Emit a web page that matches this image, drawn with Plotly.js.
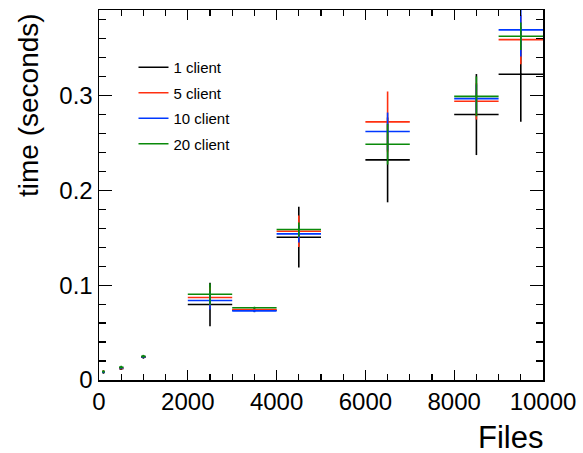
<!DOCTYPE html>
<html>
<head>
<meta charset="utf-8">
<script src="https://cdn.plot.ly/plotly-3.0.1.min.js"></script>
<style>html,body{margin:0;padding:0;background:#fff;}#chart{width:583px;height:453px;}</style>
</head>
<body>
<div id="chart"></div>
<script>
// Bin centres (Files) and half bin widths
var files = [100, 500, 1000, 2500, 3500, 4500, 6500, 8500, 9500];
var filesHalfWidth = [25, 50, 50, 500, 500, 500, 500, 500, 500];

// Series: time (seconds) and its uncertainty
var seriesNames = ["1 client", "5 client", "10 client", "20 client"];
var time1 = [0.0080, 0.0120, 0.0240, 0.0796, 0.0735, 0.1505, 0.2320, 0.2798, 0.3222];
var err1  = [0.0010, 0.0015, 0.0015, 0.0229, 0.0020, 0.0320, 0.0447, 0.0427, 0.0500];
var time5 = [0.0090, 0.0125, 0.0245, 0.0869, 0.0743, 0.1568, 0.2721, 0.2938, 0.3588];
var err5  = [0.0010, 0.0015, 0.0015, 0.0105, 0.0010, 0.0167, 0.0320, 0.0193, 0.0260];
var time10 = [0.0085, 0.0130, 0.0245, 0.0838, 0.0729, 0.1540, 0.2619, 0.2966, 0.3690];
var err10  = [0.0010, 0.0015, 0.0015, 0.0095, 0.0010, 0.0091, 0.0200, 0.0150, 0.0280];
var time20 = [0.0090, 0.0135, 0.0250, 0.0904, 0.0761, 0.1586, 0.2485, 0.2990, 0.3623];
var err20  = [0.0010, 0.0015, 0.0015, 0.0113, 0.0010, 0.0075, 0.0214, 0.0210, 0.0145];

var colors = ["#000000", "#ff3010", "#0038ff", "#0a8a0a"];
var ys = [time1, time5, time10, time20];
var es = [err1, err5, err10, err20];

var FONT = "Liberation Sans, Arial, sans-serif";
var traces = [];
for (var i = 0; i < 4; i++) {
  traces.push({
    type: "scatter", mode: "markers",
    x: files, y: ys[i],
    marker: {size: 2, color: colors[i]},
    error_x: {type: "data", array: filesHalfWidth, visible: true, color: colors[i], thickness: 1.6, width: 0},
    error_y: {type: "data", array: es[i], visible: true, color: colors[i], thickness: 1.6, width: 0},
    showlegend: false, hoverinfo: "skip"
  });
}
for (var j = 0; j < 4; j++) {
  traces.push({
    type: "scatter", mode: "lines", x: [null], y: [null],
    name: seriesNames[j], legendgroup: "g" + j,
    line: {color: colors[j], width: 1.6}, showlegend: true
  });
}

var layout = {
  width: 583, height: 453,
  margin: {l: 98.5, r: 40.3, t: 10, b: 72.5},
  paper_bgcolor: "#fff", plot_bgcolor: "#fff",
  font: {family: FONT, color: "#000"},
  showlegend: true,
  legend: {x: 0.0777, xanchor: "left", y: 0.889, yanchor: "top",
           bgcolor: "rgba(0,0,0,0)", font: {size: 15, family: FONT},
           tracegroupgap: 3, traceorder: "grouped"},
  xaxis: {
    range: [0, 10000], dtick: 2000, tick0: 0, tickformat: "d",
    showgrid: false, zeroline: false,
    showline: true, linecolor: "#000", linewidth: 1.5, mirror: "allticks",
    ticks: "inside", ticklen: 10, tickwidth: 1.2, tickcolor: "#000",
    tickfont: {size: 24, family: FONT},
    minor: {dtick: 500, ticks: "inside", ticklen: 6, tickwidth: 1.2, tickcolor: "#000", showgrid: false}
  },
  yaxis: {
    range: [0, 0.39], dtick: 0.1, tick0: 0,
    showgrid: false, zeroline: false,
    showline: true, linecolor: "#000", linewidth: 1.5, mirror: "allticks",
    ticks: "inside", ticklen: 13, tickwidth: 1.2, tickcolor: "#000",
    tickfont: {size: 24, family: FONT},
    minor: {dtick: 0.02, ticks: "inside", ticklen: 7, tickwidth: 1.2, tickcolor: "#000", showgrid: false}
  },
  annotations: [
    {text: "Files", xref: "paper", yref: "paper", x: 1, y: 0, xanchor: "right", yanchor: "middle",
     xshift: 2, yshift: -57, showarrow: false, font: {size: 31, family: FONT}},
    {text: "time (seconds)", xref: "paper", yref: "paper", x: 0, y: 1, xanchor: "center", yanchor: "top",
     xshift: -71, yshift: -1, textangle: -90, showarrow: false, font: {size: 28, family: FONT}}
  ]
};

Plotly.newPlot("chart", traces, layout, {staticPlot: true, displayModeBar: false});
</script>
</body>
</html>
